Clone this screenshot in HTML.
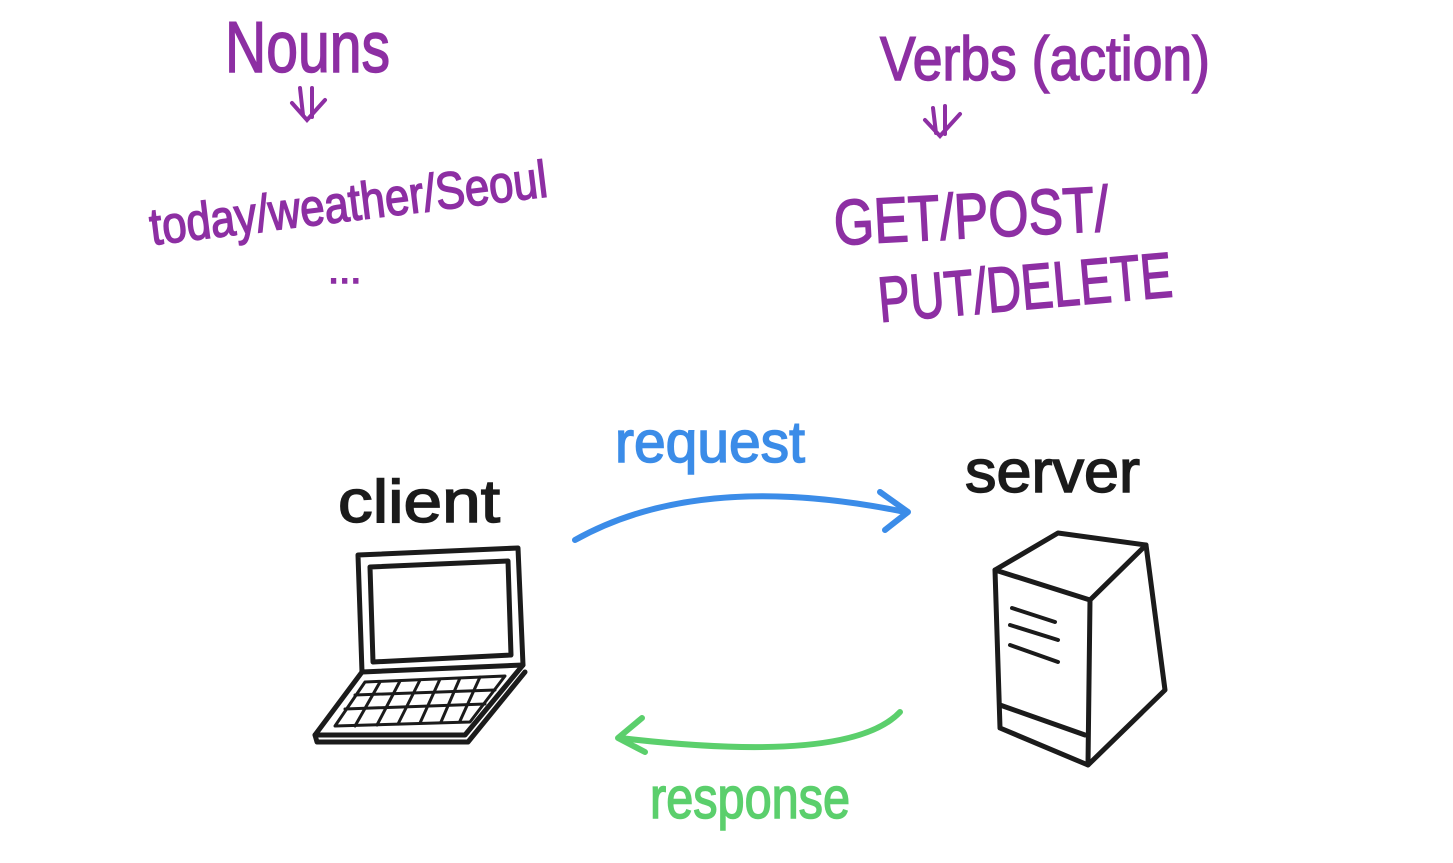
<!DOCTYPE html>
<html><head><meta charset="utf-8"><style>
html,body{margin:0;padding:0;background:#fff;}
svg{display:block;}
text{font-family:"Liberation Sans",sans-serif;}
</style></head><body>
<svg width="1453" height="863" viewBox="0 0 1453 863" xmlns="http://www.w3.org/2000/svg">
<rect width="1453" height="863" fill="#fff"/>
<g fill="#8d2fa3" stroke="#8d2fa3" stroke-width="1.5">
  <text x="225" y="72" font-size="72" textLength="165" lengthAdjust="spacingAndGlyphs">Nouns</text>
  <text x="880" y="80" font-size="62" textLength="330" lengthAdjust="spacingAndGlyphs">Verbs (action)</text>
  <text x="0" y="0" font-size="52" textLength="400" lengthAdjust="spacingAndGlyphs" transform="translate(152,245) rotate(-7)">today/weather/Seoul</text>
  <text x="328" y="283" font-size="40">...</text>
  <text x="0" y="0" font-size="64" textLength="275" lengthAdjust="spacingAndGlyphs" transform="translate(835,245) rotate(-3)">GET/POST/</text>
  <text x="0" y="0" font-size="64" textLength="295" lengthAdjust="spacingAndGlyphs" transform="translate(880,322) rotate(-5)">PUT/DELETE</text>
</g>
<g fill="none" stroke="#8d2fa3" stroke-width="4" stroke-linecap="round">
  <path d="M300 88 L303 115 M312 88 L312 117 M292 103 L307 120 L325 100"/>
  <path d="M933 108 L936 133 M945 106 L945 134 M925 120 L940 136 L960 114"/>
</g>
<g fill="#3b8ce8" stroke="#3b8ce8" stroke-width="1.5">
  <text x="615" y="462" font-size="58" textLength="190" lengthAdjust="spacingAndGlyphs">request</text>
</g>
<g fill="#5bcf6c" stroke="#5bcf6c" stroke-width="1.5">
  <text x="650" y="818" font-size="58" textLength="200" lengthAdjust="spacingAndGlyphs">response</text>
</g>
<g fill="#1b1b1b" stroke="#1b1b1b" stroke-width="1.5">
  <text x="338" y="522" font-size="60" textLength="162" lengthAdjust="spacingAndGlyphs">client</text>
  <text x="965" y="492" font-size="60" textLength="175" lengthAdjust="spacingAndGlyphs">server</text>
</g>
<g fill="none" stroke-linecap="round" stroke-linejoin="round" stroke-width="6">
  <path d="M575 540 Q700 470 905 512" stroke="#3b8ce8"/>
  <path d="M880 492 L908 512 L885 530" stroke="#3b8ce8"/>
  <path d="M900 712 Q850 765 620 738" stroke="#5bcf6c"/>
  <path d="M642 718 L618 738 L645 752" stroke="#5bcf6c"/>
</g>
<g fill="none" stroke="#1b1b1b" stroke-width="5" stroke-linecap="round" stroke-linejoin="round">
  <!-- laptop -->
  <path d="M358 555 L518 548 L523 665 L362 672 Z"/>
  <path d="M370 567 L508 561 L511 655 L373 662 Z"/>
  <path d="M362 672 L315 735 L465 735 L523 665"/>
  <path d="M315 735 L317 742 L468 742 L525 672"/>
  <path d="M365 682 L505 676 L470 722 L335 726 Z" stroke-width="3"/>
  <path d="M355 695 L495 690 M345 709 L485 704" stroke-width="3"/>
  <path d="M380 682 L355 726 M400 681 L377 725 M420 680 L398 724 M440 679 L420 723 M460 678 L441 722 M480 677 L460 721" stroke-width="3"/>
  <!-- server -->
  <path d="M995 570 L1090 600 L1088 765 L1000 728 Z"/>
  <path d="M995 570 L1058 533 L1146 545 L1090 600"/>
  <path d="M1146 545 L1165 690 L1088 765"/>
  <path d="M1000 705 L1085 735"/>
  <path d="M1012 608 L1055 622 M1010 625 L1058 640 M1010 645 L1058 662" stroke-width="4"/>
</g>
</svg>
</body></html>
